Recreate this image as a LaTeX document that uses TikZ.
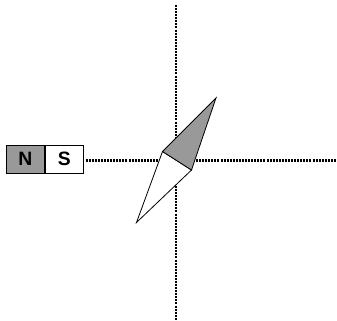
\documentclass[tikz,border=0pt]{standalone}
\usepackage{fontspec}
\setmainfont{Liberation Sans}
\definecolor{poleGray}{HTML}{999999}
\tikzset{
  axisline/.style={line width=1.6pt, dash pattern=on 1.5pt off 0.8pt, black},
  polebox/.style={draw=black, line width=0.6pt, minimum width=28.5pt, minimum height=21pt, inner sep=0pt, font=\fontsize{14.5}{16}\selectfont\bfseries},
  needle/.style={draw=black, line width=0.6pt, line join=miter}
}
\begin{document}
\begin{tikzpicture}[x=0.75pt, y=-0.75pt]
\useasboundingbox (0,0) rectangle (337,321);
% axes
\coordinate (vtop) at (176,5);
\coordinate (vbot) at (176,321);
\coordinate (hend) at (337,160.5);
\draw[axisline] (vtop) -- (vbot);
% magnet
\node[polebox, fill=poleGray, anchor=west] (N) at (6,159) {N};
\node[polebox, fill=white, anchor=west] (S) at (N.east) {S};
\draw[axisline] (S.east |- hend) ++(2,0) coordinate (hstart) -- (hend);
% needle
\coordinate (tip) at (216,98);
\coordinate (left) at (162.5,151.5);
\coordinate (right) at (191.5,170);
\coordinate (tail) at (136.5,222.5);
\filldraw[needle, fill=white] (left) -- (right) -- (tail) -- cycle;
\filldraw[needle, fill=poleGray] (left) -- (tip) -- (right) -- cycle;
\end{tikzpicture}
\end{document}
